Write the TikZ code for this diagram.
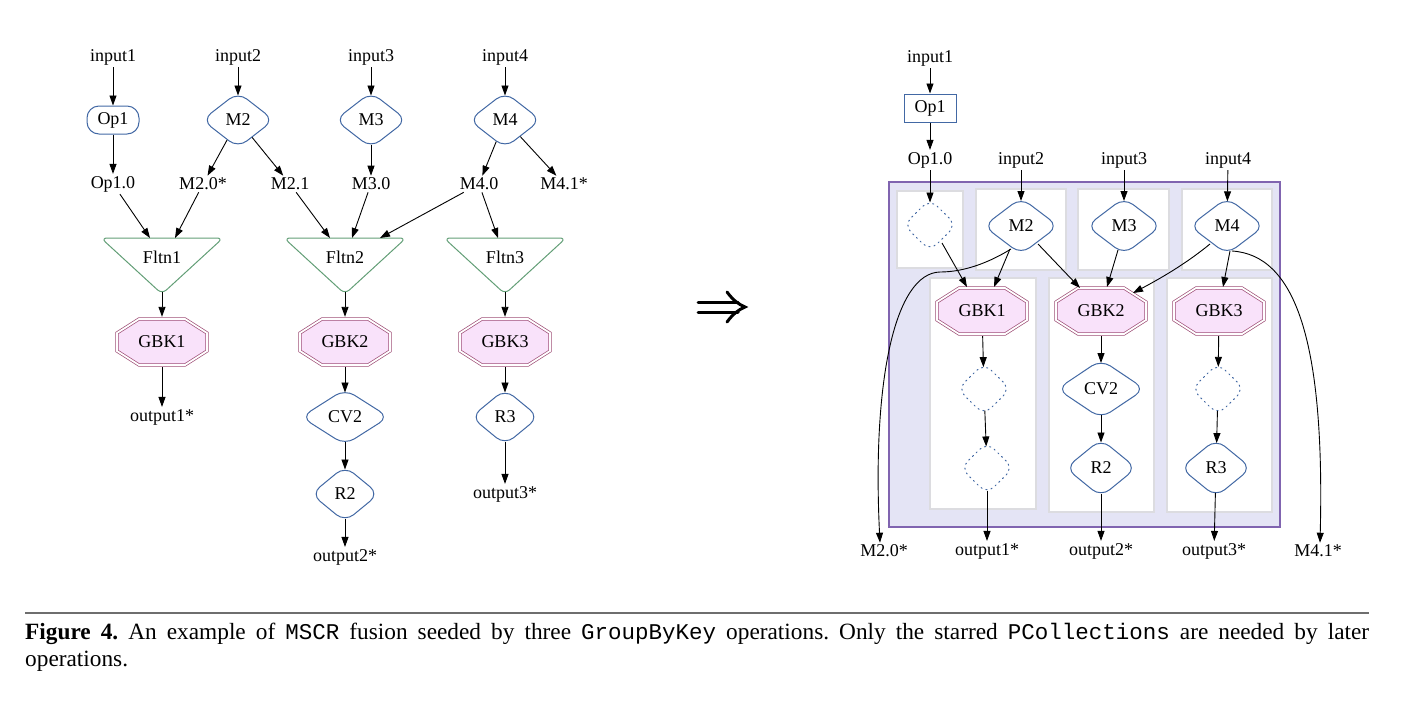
\documentclass[tikz,border=0pt]{standalone}
\usepackage{fontspec}
\setmainfont{Liberation Serif}
\setmonofont{Liberation Mono}
\usetikzlibrary{shapes.geometric,arrows.meta}
\definecolor{nblue}{RGB}{66,104,164}
\definecolor{ngreen}{RGB}{98,158,118}
\definecolor{gbkc}{RGB}{158,78,118}
\definecolor{gbkf}{RGB}{249,226,250}
\definecolor{lav}{RGB}{228,228,245}
\definecolor{lavb}{RGB}{128,100,176}
\definecolor{boxb}{RGB}{220,220,224}
\definecolor{rulec}{RGB}{110,110,110}
\newcommand\octa[2]{\draw[gbkline] (#1-45,#2-9) -- (#1-23,#2-23) -- (#1+23,#2-23) -- (#1+45,#2-9) -- (#1+45,#2+9) -- (#1+23,#2+23) -- (#1-23,#2+23) -- (#1-45,#2+9) -- cycle;}
\newcommand\fltnpath[1]{\draw[fltnline] (#1-61,238) -- (#1+61,238) -- (#1,294) -- cycle;}
\newcommand\capmono[1]{{\fontsize{22.5}{26}\selectfont\ttfamily #1}}
\begin{document}
\begin{tikzpicture}[x=1pt,y=-1pt,font=\fontsize{18}{21}\selectfont,
  lbl/.style={inner sep=2pt},
  mn/.style={diamond, draw=nblue, line width=1pt, rounded corners=11pt, inner sep=0pt, minimum width=72pt, minimum height=56pt, fill=white},
  dn/.style={diamond, draw=nblue, line width=1pt, rounded corners=10pt, dash pattern=on 1.2pt off 4pt, line cap=round, minimum width=53pt, minimum height=52pt, inner sep=0pt},
  opl/.style={rectangle, draw=nblue, line width=1pt, rounded corners=12pt, minimum width=52pt, minimum height=28pt, inner sep=0pt},
  opr/.style={rectangle, draw=nblue, line width=1pt, minimum width=52pt, minimum height=28pt, inner sep=0pt},
  gbk/.style={rectangle, minimum width=92pt, minimum height=50pt, inner sep=0pt},
  gbkline/.style={draw=gbkc, fill=gbkf, line width=0.7pt, double=white, double distance=1.8pt},
  fltnline/.style={draw=ngreen, line width=1pt, rounded corners=6pt},
  arr/.style={-{Triangle[length=10pt,width=7pt]}, line width=0.9pt},
  into/.style={shorten >=-4pt},
  outof/.style={shorten <=-4pt},
  wbox/.style={fill=white, draw=boxb, line width=1.5pt},
  bigbox/.style={fill=lav, draw=lavb, line width=1.2pt},
  impl/.style={line width=3pt, line cap=round}]
\useasboundingbox (0,0) rectangle (1414,710);

% ---------------- left graph ----------------
\node[lbl] (in1) at (113,57) {input1};
\node[lbl] (in2) at (238,57) {input2};
\node[lbl] (in3) at (371,57) {input3};
\node[lbl] (in4) at (505,57) {input4};
\node[opl] (op1) at (113,120) {Op1};
\node[mn] (m2) at (238,120) {M2};
\node[mn] (m3) at (371,120) {M3};
\node[mn] (m4) at (505,120) {M4};
\node[lbl] (op10) at (113,184) {Op1.0};
\node[lbl] (m20) at (203,184) {M2.0*};
\node[lbl] (m21) at (290,184) {M2.1};
\node[lbl] (m30) at (371,184) {M3.0};
\node[lbl] (m40) at (479,184) {M4.0};
\node[lbl] (m41) at (564,184) {M4.1*};

\fltnpath{162}
\fltnpath{345}
\fltnpath{505}
\node[lbl] (f1) at (162,257) {Fltn1};
\node[lbl] (f2) at (345,257) {Fltn2};
\node[lbl] (f3) at (505,257) {Fltn3};
\coordinate (f1a) at (150,238);
\coordinate (f1b) at (175,238);
\coordinate (f2a) at (330,238);
\coordinate (f2b) at (352,238);
\coordinate (f2c) at (380,238);
\coordinate (f3a) at (498,238);
\coordinate (f1t) at (162,292);
\coordinate (f2t) at (345,292);
\coordinate (f3t) at (505,292);

\octa{162}{342}
\octa{345}{342}
\octa{505}{342}
\node[gbk] (g1) at (162,342) {GBK1};
\node[gbk] (g2) at (345,342) {GBK2};
\node[gbk] (g3) at (505,342) {GBK3};
\node[lbl] (out1) at (162,417) {output1*};
\node[mn, minimum width=88pt] (cv2) at (345,417) {CV2};
\node[mn, minimum width=68pt] (r2) at (345,494) {R2};
\node[lbl] (out2) at (345,557) {output2*};
\node[mn, minimum width=68pt] (r3) at (505,417) {R3};
\node[lbl] (out3) at (505,494) {output3*};

\draw[arr] (in1) -- (op1);
\draw[arr] (op1) -- (op10);
\draw[arr,into] (in2) -- (m2);
\draw[arr,into] (in3) -- (m3);
\draw[arr,into] (in4) -- (m4);
\draw[arr] (m2) -- (m20);
\draw[arr] (m2) -- (m21);
\draw[arr,outof] (m3) -- (m30);
\draw[arr] (m4) -- (m40);
\draw[arr] (m4) -- (m41);
\draw[arr] (op10) -- (f1a);
\draw[arr] (m20) -- (f1b);
\draw[arr] (m21) -- (f2a);
\draw[arr] (m30) -- (f2b);
\draw[arr] (m40) -- (f2c);
\draw[arr] (m40) -- (f3a);
\draw[arr] (f1t) -- (g1);
\draw[arr] (f2t) -- (g2);
\draw[arr] (f3t) -- (g3);
\draw[arr] (g1) -- (out1);
\draw[arr,into] (g2) -- (cv2);
\draw[arr,into,outof] (cv2) -- (r2);
\draw[arr,outof] (r2) -- (out2);
\draw[arr,into] (g3) -- (r3);
\draw[arr,outof] (r3) -- (out3);

% ---------------- implies sign ----------------
\draw[impl] (698,302) -- (738,302);
\draw[impl] (698,312) -- (738,312);
\draw[impl] (727,292) .. controls (733,300) and (738,304) .. (745,307) .. controls (738,310) and (733,314) .. (727,322);

% ---------------- right graph ----------------
\draw[bigbox] (889,182) rectangle (1280,527);
\draw[wbox] (897,191) rectangle (963,268);
\draw[wbox] (976,189) rectangle (1066,270);
\draw[wbox] (1078,189) rectangle (1169,270);
\draw[wbox] (1182,189) rectangle (1272,270);
\draw[wbox] (930,278) rectangle (1036,509);
\draw[wbox] (1049,278) rectangle (1154,512);
\draw[wbox] (1167,278) rectangle (1272,512);

\node[lbl] (inR1) at (930,58) {input1};
\node[opr] (op1R) at (930,108) {Op1};
\node[lbl] (op10R) at (930,160) {Op1.0};
\node[lbl] (in2R) at (1021,160) {input2};
\node[lbl] (in3R) at (1124,160) {input3};
\node[lbl] (in4R) at (1228,160) {input4};
\node[dn] (d1) at (930,225) {};
\node[mn, minimum width=75pt, minimum height=57pt] (m2R) at (1021,226) {M2};
\node[mn, minimum width=75pt, minimum height=57pt] (m3R) at (1124,226) {M3};
\node[mn, minimum width=75pt, minimum height=57pt] (m4R) at (1227,226) {M4};
\octa{982}{311}
\octa{1101}{311}
\octa{1219}{311}
\node[gbk] (g1R) at (982,311) {GBK1};
\node[gbk] (g2R) at (1101,311) {GBK2};
\node[gbk] (g3R) at (1219,311) {GBK3};
\node[dn] (d2) at (984,389) {};
\node[dn] (d3) at (987,468) {};
\node[mn, minimum width=88pt, minimum height=59pt] (cv2R) at (1101,389) {CV2};
\node[mn, minimum width=71pt, minimum height=58pt] (r2R) at (1101,468) {R2};
\node[dn] (d4) at (1218,389) {};
\node[mn, minimum width=71pt, minimum height=58pt] (r3R) at (1216,468) {R3};
\node[lbl] (m20R) at (884,551) {M2.0*};
\node[lbl] (out1R) at (987,551) {output1*};
\node[lbl] (out2R) at (1101,551) {output2*};
\node[lbl] (out3R) at (1214,551) {output3*};
\node[lbl] (m41R) at (1318,551) {M4.1*};

\draw[arr] (inR1) -- (op1R);
\draw[arr] (op1R) -- (op10R);
\draw[arr,into] (op10R) -- (d1);
\draw[arr,into] (in2R) -- (m2R);
\draw[arr,into] (in3R) -- (m3R);
\draw[arr,into] (in4R) -- (m4R);
\draw[arr] ([shift={(12,18)}]d1.center) -- ([shift={(-15,-24)}]g1R.center);
\draw[arr] ([shift={(-11,23)}]m2R.center) -- ([shift={(12,-24)}]g1R.center);
\draw[arr] ([shift={(17,18)}]m2R.center) -- ([shift={(-21,-23)}]g2R.center);
\draw[arr] ([shift={(-6,24)}]m3R.center) -- ([shift={(6,-24)}]g2R.center);
\draw[arr] ([shift={(-17,18)}]m4R.center) .. controls (1188,262) and (1165,276) .. ([shift={(32,-18)}]g2R.center);
\draw[arr] ([shift={(3,25)}]m4R.center) -- ([shift={(4,-24)}]g3R.center);
\draw[arr] ([shift={(-10,23)}]m2R.center) .. controls (990,262) and (965,272) .. (940,272) .. controls (895,273) and (872,380) .. ([xshift=-4pt]m20R.north);
\draw[arr] ([shift={(5,25)}]m4R.center) .. controls (1295,255) and (1325,340) .. ([xshift=2pt]m41R.north);
\draw[arr,into] (g1R) -- (d2);
\draw[arr,into,outof] (d2) -- (d3);
\draw[arr,outof] (d3) -- (out1R);
\draw[arr,into] (g2R) -- (cv2R);
\draw[arr,into,outof] (cv2R) -- (r2R);
\draw[arr,outof] (r2R) -- (out2R);
\draw[arr,into] (g3R) -- (d4);
\draw[arr,into,outof] (d4) -- (r3R);
\draw[arr,outof] (r3R) -- (out3R);

% ---------------- caption ----------------
\draw[rulec, line width=1.2pt] (25,613) -- (1369,613);
\node[anchor=north west, inner sep=0pt, text width=1344pt, align=justify, font=\fontsize{23.3}{26.5}\selectfont] (cap) at (25,623)
 {\frenchspacing\spaceskip=0.25em plus 0.5em minus 0pt\relax\textbf{Figure 4.} An example of \capmono{MSCR} fusion seeded by three \capmono{GroupByKey} operations. Only the starred \capmono{PCollections} are needed by later operations.};
\end{tikzpicture}
\end{document}
